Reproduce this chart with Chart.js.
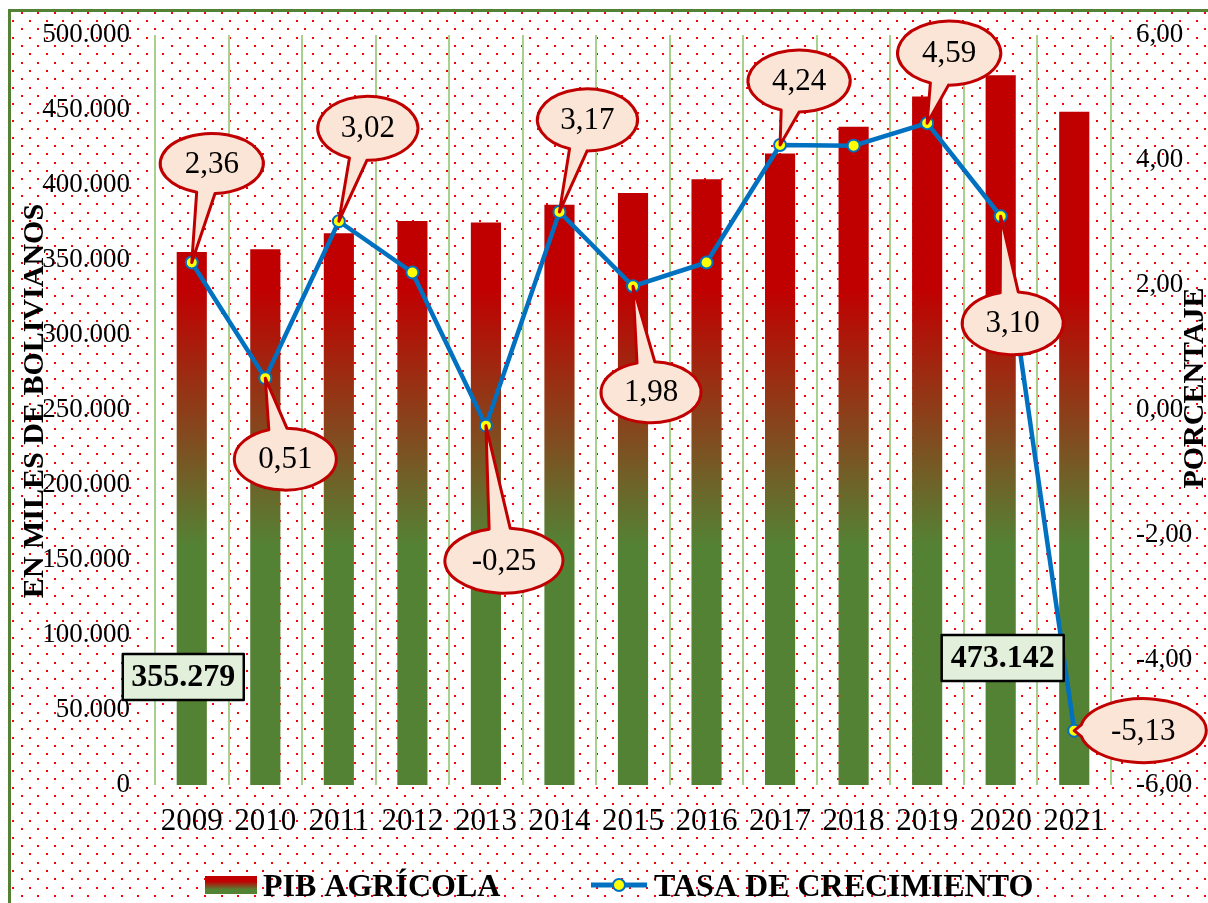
<!DOCTYPE html>
<html lang="es">
<head>
<meta charset="utf-8">
<title>PIB agrícola y tasa de crecimiento</title>
<script src="https://cdn.jsdelivr.net/npm/chart.js@4.4.1/dist/chart.umd.min.js"></script>
<style>
  html, body { margin: 0; padding: 0; background: #fff; }
  canvas { display: block; }
</style>
</head>
<body>
<canvas id="Estadistica" width="1208" height="903"></canvas>
<script>
// datos
const anios = ['2009','2010','2011','2012','2013','2014','2015','2016','2017','2018','2019','2020','2021'];
const pibAgricola = [355279, 357100, 367900, 376000, 375000, 386900, 394600, 403900, 421000, 438800, 459000, 473142, 448900];
const tasaCrecimiento = [2.36, 0.51, 3.02, 2.20, -0.25, 3.17, 1.98, 2.36, 4.24, 4.23, 4.59, 3.10, -5.13];
const ticksMiles = [0, 50000, 100000, 150000, 200000, 250000, 300000, 350000, 400000, 450000, 500000];
const ticksPorcentaje = [-6, -4, -2, 0, 2, 4, 6];

// globos de la tasa: [dx, dy, ancho, alto] respecto al punto, null = sin globo
const globos = [[20,-99,103,60], [20,81,102,62], [29,-93,100,64], null, [18,135,118,65], [28,-92,100,62],
                [18,106,100,61], null, [19,-64,102,62], null, [22,-70,103,64], [12,107,101,63], [69,0,126,64]];
// cajas con el valor de la barra: [indice, dx, centroY, ancho, alto]
const cajas = [[0, -8.5, 677, 121, 46], [11, 2, 658, 122, 46]];

const ROJO = '#C00000', VERDE = '#548235', AZUL = '#0070C0', AMARILLO = '#FFFF00';
const SERIF = '"Liberation Serif", "Times New Roman", serif';

function miles(v){ return String(Math.round(v)).replace(/\B(?=(\d{3})+(?!\d))/g, '.'); }
function coma(v){ return v.toFixed(2).replace('.', ','); }

function degradado(chart){
    const y = chart.scales.y;
    const g = chart.ctx.createLinearGradient(0, y.getPixelForValue(330000), 0, y.getPixelForValue(160000));
    g.addColorStop(0, ROJO);
    g.addColorStop(1, VERDE);
    return g;
}

// fondo punteado y marco verde
const fondo = {
    id: 'fondo',
    beforeDraw(chart){
        const ctx = chart.ctx;
        ctx.save();
        ctx.fillStyle = '#fff';
        ctx.fillRect(0, 0, chart.width, chart.height);
        ctx.fillStyle = '#FF0000';
        for (let f = 0; ; f++){
            const y = 12.7 + f * 8.333;
            if (y > chart.height) break;
            const x0 = (f % 2 == 0) ? 21.7 : 13.3;
            for (let x = x0; x < chart.width; x += 16.667){
                ctx.fillRect(Math.round(x) - 1, Math.round(y) - 1, 2, 2);
            }
        }
        ctx.fillStyle = VERDE;
        ctx.fillRect(8, 9, 3, chart.height);
        ctx.fillRect(8, 9, chart.width, 3);
        ctx.restore();
    }
};

function globo(ctx, cx, cy, rx, ry, px, py, texto){
    const t = Math.atan2((py - cy) / ry, (px - cx) / rx);
    const d = 0.18;
    ctx.beginPath();
    ctx.ellipse(cx, cy, rx, ry, 0, t + d, t - d + Math.PI * 2);
    ctx.lineTo(px, py);
    ctx.closePath();
    ctx.fillStyle = '#FBE5D6';
    ctx.fill();
    ctx.lineWidth = 3;
    ctx.lineJoin = 'round';
    ctx.strokeStyle = ROJO;
    ctx.stroke();
    ctx.fillStyle = '#000';
    ctx.font = '31px ' + SERIF;
    ctx.textAlign = 'center';
    ctx.textBaseline = 'middle';
    ctx.fillText(texto, cx, cy + 1);
}

// globos y cajas encima de las series
const etiquetas = {
    id: 'etiquetas',
    afterDatasetsDraw(chart){
        const ctx = chart.ctx;
        const puntos = chart.getDatasetMeta(1).data;
        const barras = chart.getDatasetMeta(0).data;
        ctx.save();
        globos.forEach((g, i) => {
            if (!g) return;
            const p = puntos[i];
            globo(ctx, p.x + g[0], p.y + g[1], g[2] / 2, g[3] / 2, p.x, p.y, coma(tasaCrecimiento[i]));
        });
        cajas.forEach(c => {
            const b = barras[c[0]];
            const x = b.x + c[1] - c[3] / 2, y = c[2] - c[4] / 2;
            ctx.fillStyle = '#E2EFDA';
            ctx.fillRect(x, y, c[3], c[4]);
            ctx.lineWidth = 2.5;
            ctx.strokeStyle = '#000';
            ctx.strokeRect(x, y, c[3], c[4]);
            ctx.fillStyle = '#000';
            ctx.font = 'bold 32px ' + SERIF;
            ctx.textAlign = 'center';
            ctx.textBaseline = 'middle';
            ctx.fillText(miles(pibAgricola[c[0]]), b.x + c[1], c[2] + 1);
        });
        ctx.restore();
    }
};

// titulos de ejes y leyenda
const textos = {
    id: 'textos',
    afterDraw(chart){
        const ctx = chart.ctx;
        ctx.save();
        ctx.fillStyle = '#000';
        ctx.font = 'bold 30px ' + SERIF;
        ctx.textAlign = 'center';
        ctx.textBaseline = 'alphabetic';
        ctx.save();
        ctx.translate(43, 401);
        ctx.rotate(-Math.PI / 2);
        ctx.fillText('EN MILES DE BOLIVIANOS', 0, 0);
        ctx.restore();
        ctx.save();
        ctx.translate(1203, 388);
        ctx.rotate(-Math.PI / 2);
        ctx.fillText('PORCENTAJE', 0, 0);
        ctx.restore();

        // leyenda
        const ds = chart.data.datasets;
        const g = ctx.createLinearGradient(0, 876, 0, 894);
        g.addColorStop(0.3, ROJO);
        g.addColorStop(0.75, VERDE);
        ctx.fillStyle = g;
        ctx.fillRect(205, 876, 52, 18);
        ctx.strokeStyle = AZUL;
        ctx.lineWidth = 5;
        ctx.beginPath();
        ctx.moveTo(591, 885);
        ctx.lineTo(647, 885);
        ctx.stroke();
        ctx.beginPath();
        ctx.arc(619, 885, 6, 0, Math.PI * 2);
        ctx.fillStyle = AMARILLO;
        ctx.fill();
        ctx.lineWidth = 2;
        ctx.stroke();
        ctx.fillStyle = '#000';
        ctx.font = 'bold 32px ' + SERIF;
        ctx.textAlign = 'left';
        ctx.fillText(ds[0].label, 263, 896);
        ctx.fillText(ds[1].label, 654, 896);
        ctx.restore();
    }
};

const ctx = document.getElementById('Estadistica');

new Chart(ctx, {
    type: 'bar',
    data: {
        labels: anios,
        datasets: [{
            label: 'PIB AGRÍCOLA',
            data: pibAgricola,
            yAxisID: 'y',
            order: 1,
            backgroundColor: c => c.chart.chartArea ? degradado(c.chart) : ROJO,
            borderWidth: 0,
            barPercentage: 0.41,
            categoryPercentage: 1
        }, {
            type: 'line',
            label: 'TASA DE CRECIMIENTO',
            data: tasaCrecimiento,
            yAxisID: 'y1',
            order: 0,
            borderColor: AZUL,
            borderWidth: 4.5,
            tension: 0,
            pointRadius: 6,
            pointBackgroundColor: AMARILLO,
            pointBorderColor: AZUL,
            pointBorderWidth: 2
        }]
    },
    options: {
        responsive: false,
        animation: false,
        devicePixelRatio: 1,
        layout: { padding: { top: 35, left: 0, right: 0, bottom: 0 } },
        plugins: {
            legend: { display: false },
            tooltip: { enabled: false }
        },
        scales: {
            x: {
                offset: true,
                grid: { color: '#A9D18E', lineWidth: 2, drawTicks: false, offset: true },
                border: { display: false },
                ticks: { color: '#000', font: { family: SERIF, size: 31 }, padding: 18, maxRotation: 0 },
                afterFit: s => { s.height = 118; }
            },
            y: {
                position: 'left',
                min: 0,
                max: 500000,
                grid: { display: false, drawTicks: false },
                border: { display: false },
                afterBuildTicks: s => { s.ticks = ticksMiles.map(v => ({ value: v })); },
                ticks: { color: '#000', font: { family: SERIF, size: 27 }, padding: 25, callback: v => miles(v) },
                afterFit: s => { s.width = 155; s.paddingTop = 0; }
            },
            y1: {
                position: 'right',
                min: -6,
                max: 6,
                grid: { display: false, drawTicks: false },
                border: { display: false },
                afterBuildTicks: s => { s.ticks = ticksPorcentaje.map(v => ({ value: v })); },
                ticks: { color: '#000', font: { family: SERIF, size: 27 }, padding: 25, callback: v => coma(v) },
                afterFit: s => { s.width = 97; s.paddingTop = 0; }
            }
        }
    },
    plugins: [fondo, etiquetas, textos]
});
</script>
</body>
</html>
